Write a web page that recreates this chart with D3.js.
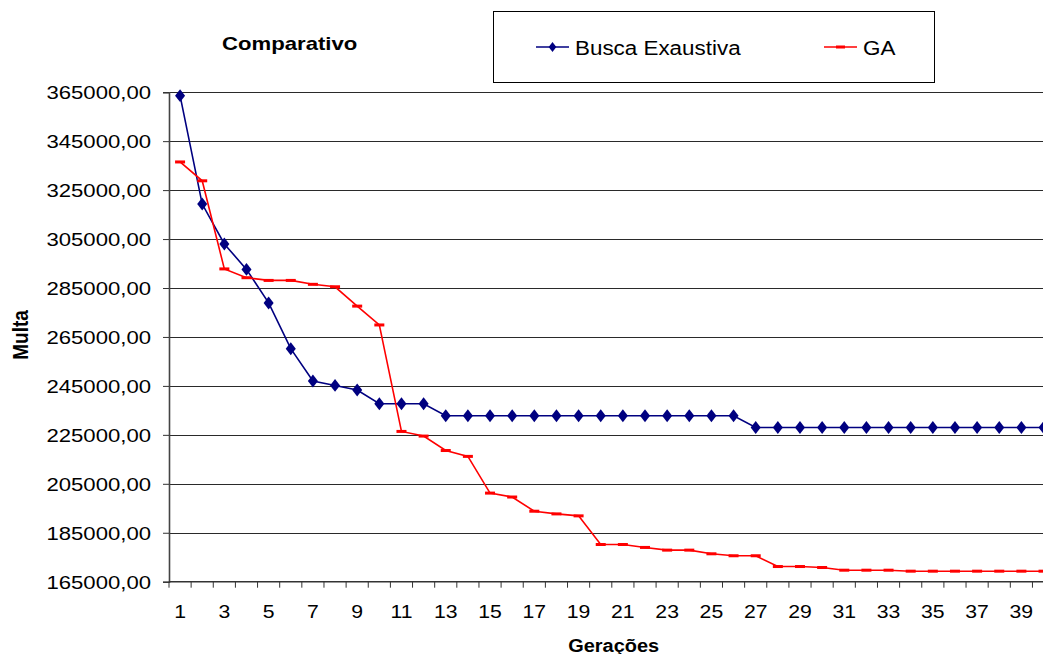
<!DOCTYPE html>
<html>
<head>
<meta charset="utf-8">
<script src="https://cdn.jsdelivr.net/npm/d3@7"></script>
<style>
  html, body { margin: 0; padding: 0; background: #fff; }
  svg { display: block; font-family: "Liberation Sans", Arial, sans-serif; }
</style>
</head>
<body>
<svg id="chart" width="1043" height="654"></svg>
<script>
const categories = [1,2,3,4,5,6,7,8,9,10,11,12,13,14,15,16,17,18,19,20,21,22,23,24,25,26,27,28,29,30,31,32,33,34,35,36,37,38,39,40];
const buscaExaustiva = [363600,319300,303000,292600,278900,260200,247000,245200,243300,237700,237700,237700,
  232800,232800,232800,232800,232800,232800,232800,232800,232800,232800,232800,232800,232800,232800,
  228000,228000,228000,228000,228000,228000,228000,228000,228000,228000,228000,228000,228000,228000];
const ga = [336500,328800,292800,289200,288100,288100,286500,285500,277600,269900,226400,224500,218600,216200,
  201200,199600,193800,192700,191900,180200,180200,179000,177900,177900,176400,175600,175600,171200,171200,
  170800,169700,169700,169700,169300,169300,169300,169300,169300,169300,169300];
const yTicks = [165000,185000,205000,225000,245000,265000,285000,305000,325000,345000,365000];
const xTickLabels = [1,3,5,7,9,11,13,15,17,19,21,23,25,27,29,31,33,35,37,39];
const seriesNames = ["Busca Exaustiva", "GA"];
const titleText = "Comparativo";
const yTitle = "Multa";
const xTitle = "Gerações";

const svg = d3.select("#chart");
const left = 169, bandW = 22.14;
const x = d3.scaleBand().domain(categories).range([left, left + bandW * categories.length]).padding(0);
const y = d3.scaleLinear().domain([165000, 365000]).range([581.7, 92.2]);
const cx = d => x(d) + x.bandwidth() / 2;
const W = 1043;

function stretch(sel, k) {
  sel.each(function () {
    const w = this.getComputedTextLength();
    this.setAttribute("textLength", (w * k).toFixed(1));
    this.setAttribute("lengthAdjust", "spacingAndGlyphs");
  });
}

// gridlines
svg.append("g").selectAll("line").data(yTicks.filter(t => t > 165000)).join("line")
  .attr("x1", left).attr("x2", W)
  .attr("y1", d => Math.round(y(d)) + 0.5).attr("y2", d => Math.round(y(d)) + 0.5)
  .attr("stroke", "#2a2a2a").attr("stroke-width", 1);

// y axis
const yAxis = d3.axisLeft(y).tickValues(yTicks).tickSize(6).tickPadding(12)
  .tickFormat(d => d3.format(".2f")(d).replace(".", ","));
const gy = svg.append("g").attr("transform", `translate(${left},0)`).call(yAxis);
gy.select(".domain").attr("stroke", "#444").attr("stroke-width", 1.6);
gy.selectAll(".tick line").attr("stroke", "#333");
gy.selectAll(".tick text").attr("font-size", "18.6px").attr("fill", "#000")
  .attr("font-family", "Liberation Sans, Arial, sans-serif").attr("dy", "0.36em");
stretch(gy.selectAll(".tick text"), 1.19);

// x axis
const xAxis = d3.axisBottom(x).tickSize(0).tickPadding(0).tickFormat("");
const gx = svg.append("g").attr("transform", `translate(0,${y(165000)})`).call(xAxis);
gx.select(".domain").attr("stroke", "#333").attr("stroke-width", 1.4).attr("d", `M${left},0H${W + 20}`);
gx.selectAll(".tick").remove();
gx.selectAll("line.bt").data(categories).join("line").attr("class", "bt")
  .attr("x1", d => x(d)).attr("x2", d => x(d)).attr("y1", 0).attr("y2", 6)
  .attr("stroke", "#333").attr("stroke-width", 1);
const xl = svg.append("g").selectAll("text").data(xTickLabels).join("text")
  .attr("x", d => cx(d)).attr("y", 617.5).attr("text-anchor", "middle")
  .attr("font-size", "18.6px").attr("fill", "#000").text(d => d);
stretch(xl, 1.14);

// lines
const line = d3.line().x((d, i) => cx(categories[i])).y(d => y(d));
svg.append("path").datum(buscaExaustiva).attr("d", line)
  .attr("fill", "none").attr("stroke", "#000080").attr("stroke-width", 1.6);
svg.append("path").datum(ga).attr("d", line)
  .attr("fill", "none").attr("stroke", "#ff0000").attr("stroke-width", 1.6);

// markers
const diamond = d3.symbol().type(d3.symbolDiamond).size(48);
svg.append("g").selectAll("path").data(buscaExaustiva).join("path")
  .attr("d", diamond)
  .attr("transform", (d, i) => `translate(${cx(categories[i])},${y(d)}) scale(1.35,1)`)
  .attr("fill", "#000080");
svg.append("g").selectAll("rect").data(ga).join("rect")
  .attr("x", (d, i) => cx(categories[i]) - 5).attr("y", d => y(d) - 1.5)
  .attr("width", 10).attr("height", 3).attr("fill", "#ff0000");

// title
const tt = svg.append("text").attr("x", 289.7).attr("y", 50).attr("text-anchor", "middle")
  .attr("font-weight", "bold").attr("font-size", "18.6px").text(titleText);
stretch(tt, 1.19);

// axis titles
svg.append("text").attr("transform", "translate(28,335) rotate(-90) scale(1,1.15)")
  .attr("text-anchor", "middle").attr("font-weight", "bold").attr("font-size", "19px").text(yTitle);
const xt = svg.append("text").attr("x", 613.7).attr("y", 651.5).attr("text-anchor", "middle")
  .attr("font-weight", "bold").attr("font-size", "17.5px").text(xTitle);
stretch(xt, 1.14);

// legend
const lg = svg.append("g");
lg.append("rect").attr("x", 493.5).attr("y", 11.5).attr("width", 441).attr("height", 71)
  .attr("fill", "#fff").attr("stroke", "#000").attr("stroke-width", 1);
const legendItems = [
  { name: seriesNames[0], color: "#000080", x0: 536, type: "diamond" },
  { name: seriesNames[1], color: "#ff0000", x0: 824, type: "dash" }
];
legendItems.forEach(it => {
  lg.append("line").attr("x1", it.x0).attr("x2", it.x0 + 33).attr("y1", 47).attr("y2", 47)
    .attr("stroke", it.color).attr("stroke-width", 1.6);
  if (it.type === "diamond") {
    lg.append("path").attr("d", d3.symbol().type(d3.symbolDiamond).size(30))
      .attr("transform", `translate(${it.x0 + 16.5},47) scale(1.3,1)`).attr("fill", it.color);
  } else {
    lg.append("rect").attr("x", it.x0 + 12).attr("y", 45.5).attr("width", 9).attr("height", 3).attr("fill", it.color);
  }
  const t = lg.append("text").attr("x", it.x0 + 39).attr("y", 55).attr("font-size", "20px")
    .attr("fill", "#000").text(it.name);
  stretch(t, 1.12);
});
</script>
</body>
</html>
